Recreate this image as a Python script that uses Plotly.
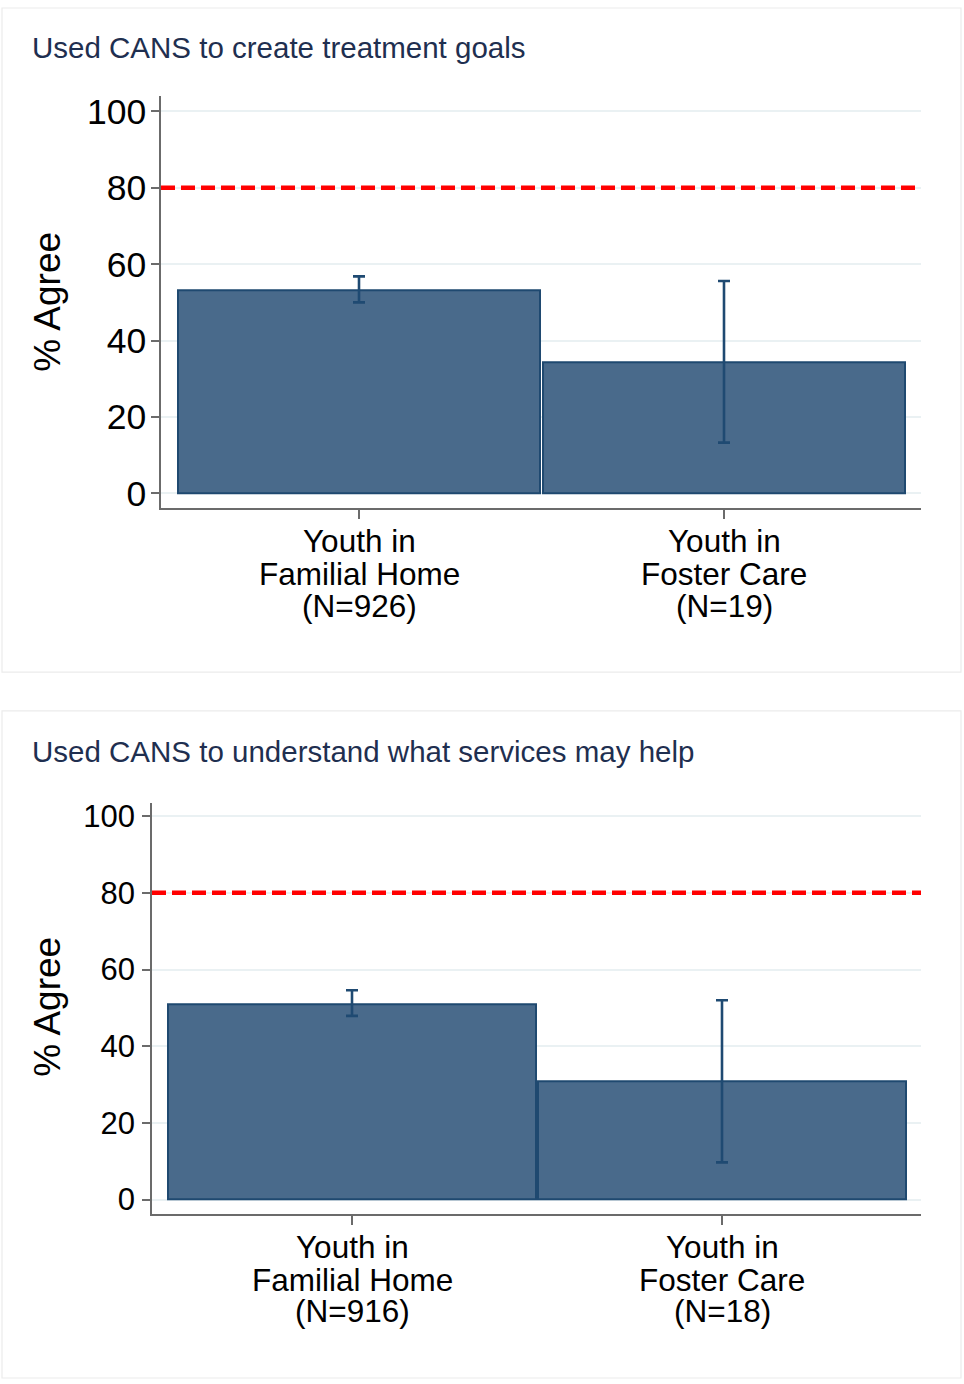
import plotly.graph_objects as go

# ---- data ----
categories = ["Youth in<br>Familial Home", "Youth in<br>Foster Care"]
panel_titles = [
    "Used CANS to create treatment goals",
    "Used CANS to understand what services may help",
]
sample_sizes = [[926, 19], [916, 18]]
pct_agree = [[53.2, 34.4], [51.0, 30.8]]
ci_low = [[50.0, 13.3], [47.9, 9.7]]
ci_high = [[56.8, 55.6], [54.6, 52.0]]
target_pct = 80
y_ticks = [0, 20, 40, 60, 80, 100]

W, H = 964, 1384
FONT = "Liberation Sans, Arial, sans-serif"
BAR_FILL = "#496a8b"
BAR_LINE = "#1f4970"
ERR_COLOR = "#1f4a72"
AXIS_COLOR = "#6b6b6b"
GRID_COLOR = "#eaf1f3"
TITLE_COLOR = "#1f2f50"

# pixel layout of each panel: plot box (left, right, top, bottom), zero line,
# px per unit, tick font size, category line y positions, title y, panel frame
panels = [
    dict(left=161, right=921, top=92, bottom=507, zero=492, scale=3.85,
         c0=359, unit=365, tickfont=35.5, standoff=-2,
         label_y=[540, 573, 605], title_y=43, frame=(2, 961, 3, 672), ylab=299),
    dict(left=152, right=921, top=804, bottom=1218, zero=1203.3, scale=3.863,
         c0=352, unit=370, tickfont=31, standoff=1,
         label_y=[1251, 1284, 1316], title_y=752, frame=(2, 961, 711, 1383), ylab=1009),
]

fig = go.Figure()
shapes, annotations = [], []

for i, p in enumerate(panels):
    xa = "x" if i == 0 else f"x{i + 1}"
    ya = "y" if i == 0 else f"y{i + 1}"
    means = pct_agree[i]
    err_plus = [hi - m for hi, m in zip(ci_high[i], means)]
    err_minus = [m - lo for lo, m in zip(ci_low[i], means)]
    xs = list(range(len(categories)))

    fig.add_trace(go.Bar(
        x=xs, y=means, width=0.994, xaxis=xa, yaxis=ya,
        marker=dict(color=BAR_FILL, line=dict(color=BAR_LINE, width=2)),
        error_y=dict(type="data", symmetric=False, array=err_plus,
                     arrayminus=err_minus, color=ERR_COLOR,
                     thickness=2.6, width=6),
        showlegend=False, hoverinfo="skip",
    ))

    x_lo = -(p["c0"] - p["left"]) / p["unit"]
    x_hi = 1 + (p["right"] - (p["c0"] + p["unit"])) / p["unit"]
    y_lo = -(p["bottom"] - p["zero"]) / p["scale"]
    y_hi = (p["zero"] - p["top"]) / p["scale"]

    xkey = "xaxis" if i == 0 else f"xaxis{i + 1}"
    ykey = "yaxis" if i == 0 else f"yaxis{i + 1}"
    fig.update_layout({
        xkey: dict(
            domain=[p["left"] / W, p["right"] / W], anchor=ya,
            range=[x_lo, x_hi], tickvals=xs, ticktext=[""] * len(xs),
            showline=True, linecolor=AXIS_COLOR, linewidth=1.5,
            ticks="outside", ticklen=9, tickwidth=1.5, tickcolor=AXIS_COLOR,
            showgrid=False, zeroline=False, fixedrange=True,
        ),
        ykey: dict(
            domain=[1 - p["bottom"] / H, 1 - p["top"] / H], anchor=xa,
            range=[y_lo, y_hi], tickvals=y_ticks,
            ticktext=[str(t) for t in y_ticks],
            tickfont=dict(family=FONT, size=p["tickfont"], color="#000000"),
            showline=True, linecolor=AXIS_COLOR, linewidth=1.5,
            ticks="outside", ticklen=8, tickwidth=1.5, tickcolor=AXIS_COLOR,
            ticklabelstandoff=p["standoff"],
            showgrid=True, gridcolor=GRID_COLOR, gridwidth=1.5,
            zeroline=False, fixedrange=True,
        ),
    })

    # reference line at the target percentage
    shapes.append(dict(
        type="line", xref=f"{xa} domain", yref=ya, x0=0, x1=1,
        y0=target_pct, y1=target_pct, layer="above",
        line=dict(color="#ff0000", width=4.5, dash="14px,6px"),
    ))

    # panel frame
    fx0, fx1, fy0, fy1 = p["frame"]
    shapes.append(dict(
        type="rect", xref="paper", yref="paper",
        x0=fx0 / W, x1=fx1 / W, y0=1 - fy1 / H, y1=1 - fy0 / H,
        line=dict(color="#ececec", width=1.2), fillcolor="rgba(0,0,0,0)",
        layer="below",
    ))

    # panel title
    annotations.append(dict(
        text=panel_titles[i], xref="paper", yref="paper",
        x=30 / W, y=1 - p["title_y"] / H, xanchor="left", yanchor="middle",
        showarrow=False, font=dict(family=FONT, size=29.5, color=TITLE_COLOR),
    ))

    # y-axis title
    annotations.append(dict(
        text="% Agree", xref="paper", yref="paper",
        x=48 / W, y=1 - p["ylab"] / H, xanchor="center", yanchor="middle",
        textangle=-90, showarrow=False,
        font=dict(family=FONT, size=37, color="#000000"),
    ))

    # category labels, one line each for tight line spacing
    for j, cat in enumerate(categories):
        lines = cat.split("<br>") + [f"(N={sample_sizes[i][j]})"]
        for k, line in enumerate(lines):
            annotations.append(dict(
                text=line, xref=xa, yref="paper",
                x=xs[j], y=1 - p["label_y"][k] / H,
                xanchor="center", yanchor="middle", showarrow=False,
                font=dict(family=FONT, size=31.5, color="#000000"),
            ))

fig.update_layout(
    width=W, height=H,
    margin=dict(l=0, r=0, t=0, b=0),
    paper_bgcolor="#ffffff", plot_bgcolor="#ffffff",
    barmode="overlay", bargap=0,
    shapes=shapes, annotations=annotations,
    font=dict(family=FONT),
)

fig.write_html("out.html", config={"displayModeBar": False})
